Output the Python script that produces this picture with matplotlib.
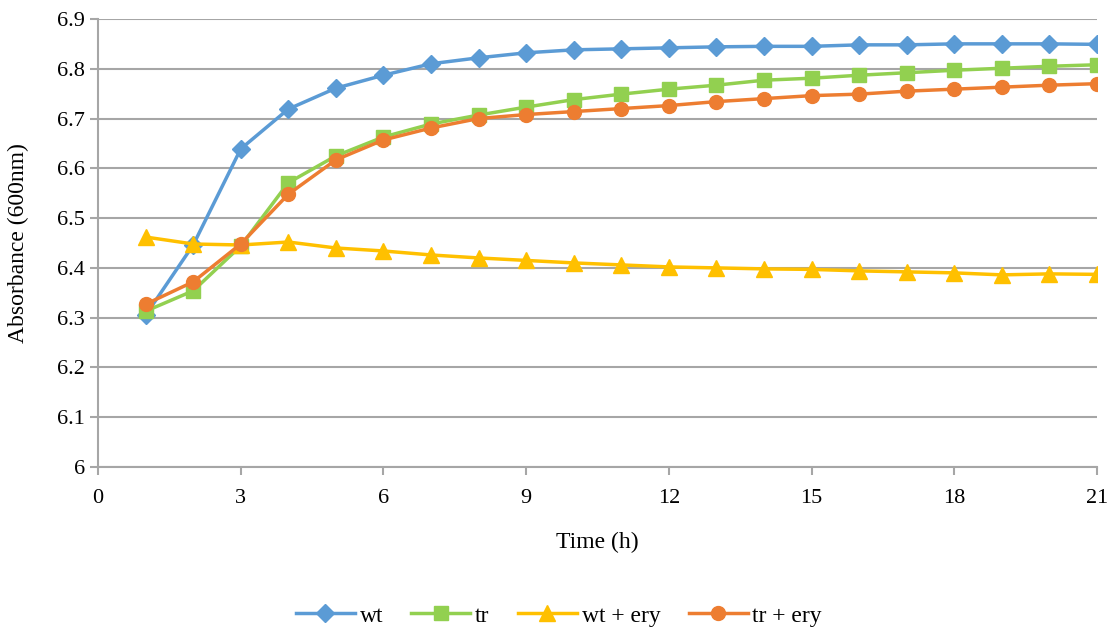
import matplotlib
matplotlib.use('Agg')
import matplotlib.pyplot as plt

hours = list(range(1, 22))
wt = [6.305, 6.446, 6.639, 6.719, 6.761, 6.787, 6.810, 6.822, 6.832, 6.838, 6.840,
      6.842, 6.844, 6.845, 6.845, 6.848, 6.848, 6.850, 6.850, 6.850, 6.849]
tr = [6.313, 6.354, 6.444, 6.571, 6.625, 6.663, 6.689, 6.707, 6.723, 6.738, 6.749,
      6.759, 6.767, 6.777, 6.781, 6.787, 6.792, 6.797, 6.801, 6.805, 6.808]
wt_ery = [6.462, 6.448, 6.446, 6.452, 6.440, 6.434, 6.426, 6.420, 6.415, 6.410, 6.406,
          6.402, 6.400, 6.398, 6.397, 6.394, 6.392, 6.390, 6.386, 6.388, 6.387]
tr_ery = [6.327, 6.372, 6.448, 6.548, 6.617, 6.657, 6.681, 6.700, 6.708, 6.714, 6.720,
          6.726, 6.734, 6.740, 6.746, 6.749, 6.755, 6.759, 6.763, 6.767, 6.770]

plt.rcParams['font.family'] = ['Liberation Serif', 'DejaVu Serif']

fig = plt.figure(figsize=(11.18, 6.32), dpi=100)
ax = fig.add_axes([0.0877, 0.261, 0.8935, 0.709])

ax.plot(hours, wt, marker='D', color='#5B9BD5', lw=2.5, ms=9, label='wt')
ax.plot(hours, tr, marker='s', color='#92D050', lw=2.5, ms=10, label='tr')
ax.plot(hours, wt_ery, marker='^', color='#FFC000', lw=2.5, ms=11, label='wt + ery')
ax.plot(hours, tr_ery, marker='o', color='#ED7D31', lw=2.5, ms=10, label='tr + ery')

ax.set_xlim(0, 21)
ax.set_ylim(6.0, 6.9)
ax.set_xticks(range(0, 22, 3))
yt = [6.0 + 0.1 * i for i in range(10)]
ax.set_yticks(yt)
ax.set_yticklabels(['6'] + ['%.1f' % v for v in yt[1:]])
ax.grid(axis='y', color='#A6A6A6', lw=1.5)
ax.set_axisbelow(True)
for s in ['top', 'right']:
    ax.spines[s].set_visible(False)
for s in ['left', 'bottom']:
    ax.spines[s].set_color('#A6A6A6')
    ax.spines[s].set_linewidth(1.5)
ax.tick_params(axis='both', labelsize=16, color='#A6A6A6', width=1.5, length=6)
ax.tick_params(axis='x', pad=10)
ax.set_xlabel('Time (h)', fontsize=17, labelpad=17)
ax.set_ylabel('Absorbance (600nm)', fontsize=17, labelpad=20)

fig.legend(loc='lower center', bbox_to_anchor=(0.5, -0.025), ncol=4, frameon=False,
           fontsize=17, handlelength=2.5, columnspacing=1.2, handletextpad=0.2)

fig.savefig('out.png', dpi=100)
